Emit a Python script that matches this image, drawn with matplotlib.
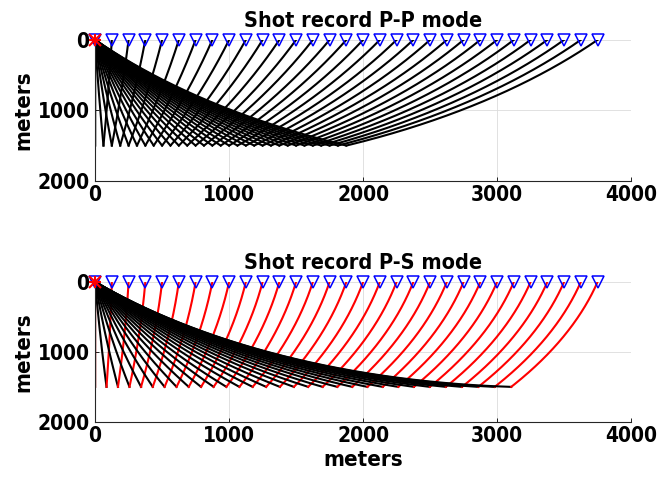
import numpy as np
import matplotlib
matplotlib.use('Agg')
import matplotlib.pyplot as plt

# velocity model: both linear in depth
z_nodes = [0, 2000]
vp_nodes = [1800, 3000]
vs_nodes = [600, 1800]
z_reflector = 1500
x_shot = 0
receivers = [0, 125, 250, 375, 500, 625, 750, 875, 1000, 1125, 1250, 1375,
             1500, 1625, 1750, 1875, 2000, 2125, 2250, 2375, 2500, 2625,
             2750, 2875, 3000, 3125, 3250, 3375, 3500, 3625, 3750]

zz = np.linspace(0, z_reflector, 1501)
vp = np.interp(zz, z_nodes, vp_nodes)
vs = np.interp(zz, z_nodes, vs_nodes)

def leg(p, v):
    s = p*v
    dxdz = s/np.sqrt(1 - s**2)
    return np.concatenate([[0], np.cumsum(0.5*(dxdz[1:] + dxdz[:-1])*np.diff(zz))])

def trace(offset, vdown, vup):
    # shoot for the ray parameter that joins shot and receiver
    if offset == 0:
        return np.zeros_like(zz), np.zeros_like(zz)
    lo, hi = 0.0, 0.9999999/max(vdown.max(), vup.max())
    for _ in range(80):
        p = 0.5*(lo + hi)
        if leg(p, vdown)[-1] + leg(p, vup)[-1] < offset:
            lo = p
        else:
            hi = p
    return leg(p, vdown), leg(p, vup)

font = dict(family='DejaVu Sans', fontstretch='condensed', fontweight='bold')

def shot_panel(ax, vup, upcolor, title):
    for xr in receivers:
        xd, xu = trace(xr - x_shot, vp, vup)
        ax.plot(x_shot + xd, zz, color='k', lw=1.5)
        ax.plot(xr - xu, zz, color=upcolor, lw=1.5)
    ax.plot(receivers, np.zeros(len(receivers)), 'v', mfc='none', mec='b',
            ms=9, mew=1.1, clip_on=False, zorder=5)
    # matlab style asterisk for the shot
    for m in ['+', 'x']:
        ax.plot(x_shot, 0, m, color='r', ms=9, mew=1.5, clip_on=False, zorder=6)
    ax.set_xlim(0, 4000)
    ax.set_ylim(2000, 0)
    ax.set_xticks([0, 1000, 2000, 3000, 4000])
    ax.set_yticks([0, 1000, 2000])
    ax.grid(True, color='#dcdcdc', lw=0.6)
    ax.set_axisbelow(True)
    for s in ['top', 'right']:
        ax.spines[s].set_visible(False)
    for s in ['left', 'bottom']:
        ax.spines[s].set_color('#262626')
        ax.spines[s].set_linewidth(0.8)
    ax.tick_params(direction='in', length=3, width=0.6, labelsize=15)
    ax.tick_params(axis='y', pad=4)
    ax.tick_params(axis='x', pad=3)
    for lab in ax.get_xticklabels() + ax.get_yticklabels():
        lab.set_fontweight('bold')
        lab.set_fontstretch('condensed')
    ax.set_title(title, fontsize=15.5, pad=9, **font)
    ax.set_ylabel('meters', fontsize=16, labelpad=3, **font)

fig = plt.figure(figsize=(6.65, 4.86), dpi=100)
ax1 = fig.add_axes([0.143, 0.628, 0.806, 0.29])
ax2 = fig.add_axes([0.143, 0.132, 0.806, 0.288])

shot_panel(ax1, vp, 'k', 'Shot record P-P mode')
shot_panel(ax2, vs, 'r', 'Shot record P-S mode')
ax2.set_xlabel('meters', fontsize=16, labelpad=3, **font)

fig.savefig('out.png', dpi=100)
